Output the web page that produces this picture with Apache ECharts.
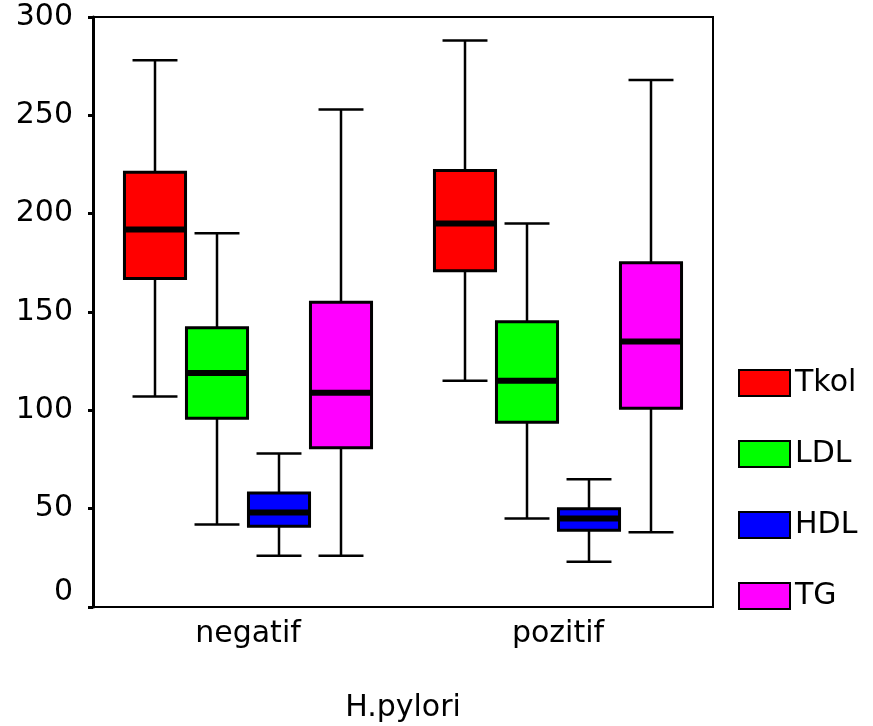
<!DOCTYPE html>
<html><head><meta charset="utf-8">
<script src="https://cdn.jsdelivr.net/npm/echarts@6/dist/echarts.min.js"></script>
<style>html,body{margin:0;padding:0;background:#fff}#c{width:873px;height:726px}</style>
</head><body><div id="c"></div>
<script>
// Categories and series
const categories = ['negatif', 'pozitif'];
const seriesNames = ['Tkol', 'LDL', 'HDL', 'TG'];
const seriesColors = ['#ff0000', '#00ff00', '#0000ff', '#ff00ff'];
// [low whisker, Q1, median, Q3, high whisker] per category
const tkol = [[107, 167, 192, 221, 278], [115, 171, 195, 222, 288]];
const ldl  = [[42, 96, 119, 142, 190], [45, 94, 115, 145, 195]];
const hdl  = [[26, 41, 48, 58, 78], [23, 39, 45, 50, 65]];
const tg   = [[26, 81, 109, 155, 253], [38, 101, 135, 175, 268]];
const yTicks = [0, 50, 100, 150, 200, 250, 300];

const allSeries = [tkol, ldl, hdl, tg];
const FONT = '"DejaVu Sans", Arial, sans-serif';
const FS = 30;

function renderBox(params, api) {
  const ci = api.value(0);
  const band = api.size([1, 0])[0];
  const si = params.seriesIndex;
  const off = (si - 1.5) * band * 0.2;
  const bw = band * 0.197;
  const cw = band * 0.145;
  const low = api.coord([ci, api.value(1)]);
  const q1 = api.coord([ci, api.value(2)]);
  const med = api.coord([ci, api.value(3)]);
  const q3 = api.coord([ci, api.value(4)]);
  const high = api.coord([ci, api.value(5)]);
  const cx = low[0] + off;
  const ls = { stroke: '#000', lineWidth: 2.5 };
  return {
    type: 'group',
    children: [
      { type: 'line', shape: { x1: cx, y1: high[1], x2: cx, y2: q3[1] }, style: ls },
      { type: 'line', shape: { x1: cx, y1: q1[1], x2: cx, y2: low[1] }, style: ls },
      { type: 'line', shape: { x1: cx - cw / 2, y1: high[1], x2: cx + cw / 2, y2: high[1] }, style: ls },
      { type: 'line', shape: { x1: cx - cw / 2, y1: low[1], x2: cx + cw / 2, y2: low[1] }, style: ls },
      { type: 'rect', shape: { x: cx - bw / 2, y: q3[1], width: bw, height: q1[1] - q3[1] },
        style: { fill: api.visual('color'), stroke: '#000', lineWidth: 3 } },
      { type: 'line', shape: { x1: cx - bw / 2, y1: med[1], x2: cx + bw / 2, y2: med[1] },
        style: { stroke: '#000', lineWidth: 6 } }
    ]
  };
}

const series = allSeries.map((arr, si) => ({
  name: seriesNames[si],
  type: 'custom',
  renderItem: renderBox,
  itemStyle: { color: seriesColors[si] },
  encode: { x: 0, y: [1, 2, 3, 4, 5] },
  data: arr.map((v, ci) => [ci].concat(v))
}));

const chart = echarts.init(document.getElementById('c'));
chart.setOption({
  animation: false,
  backgroundColor: '#fff',
  grid: { left: 93, right: 160, top: 17, bottom: 119, show: true, borderColor: '#000', borderWidth: 2, containLabel: false, outerBoundsMode: 'none' },
  legend: {
    orient: 'vertical', left: 733, top: 363,
    itemWidth: 51, itemHeight: 26, itemGap: 41,
    icon: 'rect',
    itemStyle: { borderColor: '#000', borderWidth: 2 },
    textStyle: { fontFamily: FONT, fontSize: FS, color: '#000', lineHeight: 26 },
    data: seriesNames
  },
  xAxis: {
    type: 'category', data: categories,
    name: 'H.pylori', nameLocation: 'middle', nameGap: 86,
    nameTextStyle: { fontFamily: FONT, fontSize: FS, color: '#000' },
    axisLine: { lineStyle: { color: '#000', width: 2 } },
    axisTick: { alignWithLabel: true, length: 5, lineStyle: { color: '#000', width: 3 } },
    axisLabel: { margin: 12, fontFamily: FONT, fontSize: FS, color: '#000' },
    splitLine: { show: false }
  },
  yAxis: {
    type: 'value', min: yTicks[0], max: yTicks[yTicks.length - 1], interval: 50,
    axisLine: { show: true, lineStyle: { color: '#000', width: 3 } },
    axisTick: { show: true, length: 5, lineStyle: { color: '#000', width: 3 } },
    axisLabel: {
      margin: 20, fontFamily: FONT, fontSize: FS, color: '#000',
      formatter: v => v === 0 ? '{z|0}' : String(v),
      rich: { z: { fontFamily: FONT, fontSize: FS, color: '#000', padding: [0, 0, 30, 0] } }
    },
    splitLine: { show: false }
  },
  series: series
});
</script></body></html>
